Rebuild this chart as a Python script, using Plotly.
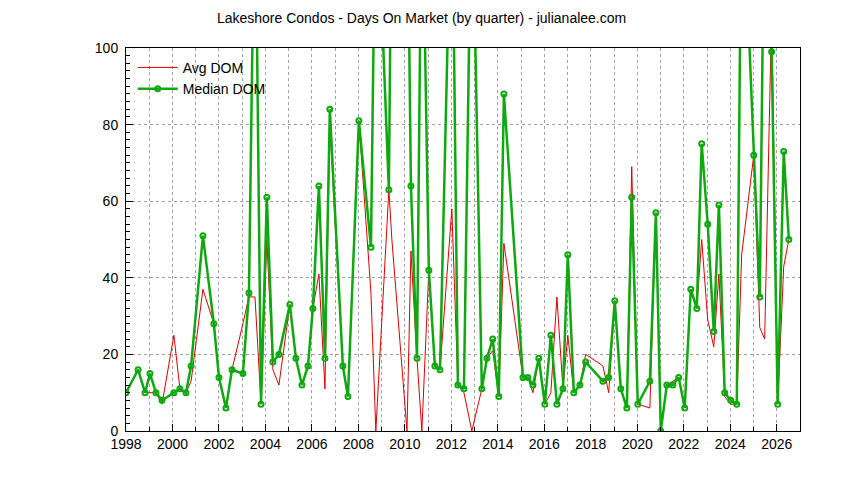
import plotly.graph_objects as go

# quarter positions (decimal year)
years = [1998.0, 1998.52, 1998.82, 1999.03, 1999.29, 1999.55, 2000.06, 2000.32, 2000.58, 2000.8,
         2001.31, 2001.78, 2002.0, 2002.3, 2002.56, 2003.03, 2003.29, 2003.55, 2003.81, 2004.06,
         2004.32, 2004.58, 2005.05, 2005.31, 2005.57, 2005.83, 2006.04, 2006.3, 2006.56, 2006.77,
         2007.33, 2007.55, 2008.02, 2008.54, 2008.75, 2009.31, 2009.44, 2010.09, 2010.26, 2010.52,
         2010.73, 2011.03, 2011.29, 2011.51, 2012.02, 2012.28, 2012.54, 2012.88, 2013.31, 2013.53,
         2013.78, 2014.04, 2014.26, 2015.08, 2015.29, 2015.51, 2015.76, 2016.02, 2016.28, 2016.54,
         2016.8, 2017.01, 2017.27, 2017.53, 2017.78, 2018.52, 2018.77, 2019.03, 2019.29, 2019.55,
         2019.76, 2020.02, 2020.54, 2020.8, 2021.01, 2021.27, 2021.53, 2021.78, 2022.04, 2022.3,
         2022.56, 2022.77, 2023.03, 2023.29, 2023.51, 2023.76, 2024.02, 2024.28, 2024.49, 2025.01,
         2025.27, 2025.48, 2025.78, 2026.04, 2026.3, 2026.52]

median_dom = [10, 16, 10, 15, 10, 8, 10, 11, 10, 17,
              51, 28, 14, 6, 16, 15, 36, 150, 7, 61,
              18, 20, 33, 19, 12, 17, 32, 64, 19, 84,
              17, 9, 81, 48, 150, 63, 150, 150, 64, 19,
              150, 42, 17, 16, 150, 12, 11, 150, 11, 19,
              24, 9, 88, 14, 14, 12, 19, 7, 25, 7,
              11, 46, 10, 12, 18, 13, 14, 34, 11, 6,
              61, 7, 13, 57, 0, 12, 12, 14, 6, 37,
              32, 75, 54, 26, 59, 10, 8, 7, 150, 72,
              35, 150, 99, 7, 73, 50]

avg_dom = [10, 16, 10, 10, 10, 7, 25, 11, 10, 13,
           37, 28, 14, 6, 16, 28, 35, 35, 7, 50,
           16, 12, 33, 19, 12, 17, 32, 41, 11, 80,
           17, 9, 81, 36, 0, 63, 50, 0, 47, 19,
           0, 42, 17, 16, 58, 12, 10, 0, 11, 19,
           21, 9, 49, 14, 14, 10, 19, 7, 10, 35,
           11, 25, 10, 12, 20, 17, 10, 34, 11, 6,
           69, 7, 6, 57, 0, 12, 13, 14, 6, 37,
           32, 50, 29, 22, 41, 9, 7, 7, 46, 72,
           27, 24, 110, 7, 43, 50]

fig = go.Figure()
fig.add_trace(go.Scatter(x=years, y=avg_dom, mode="lines", name="Avg DOM",
                         line=dict(color="#dd0000", width=1)))
fig.add_trace(go.Scatter(x=years, y=median_dom, mode="lines+markers", name="Median DOM",
                         line=dict(color="#10a810", width=2.5),
                         marker=dict(symbol="circle-open", size=5, color="#10a810",
                                     line=dict(width=2))))

axis_style = dict(showline=True, linecolor="black", linewidth=1, mirror=True,
                  ticks="inside", ticklen=7, tickcolor="black",
                  showgrid=True, gridcolor="#a0a0a0", griddash="dot", gridwidth=1,
                  zeroline=False, tickfont=dict(size=14, color="black"))

fig.update_layout(
    width=844, height=480,
    paper_bgcolor="white", plot_bgcolor="white",
    font=dict(family="Liberation Sans, Arial, sans-serif", size=14, color="black"),
    title=dict(text="Lakeshore Condos - Days On Market (by quarter) - julianalee.com",
               x=0.49, xanchor="center", yref="container", y=0.978, yanchor="middle",
               font=dict(size=14)),
    margin=dict(l=118, r=52, t=40, b=57),
    showlegend=True,
    legend=dict(x=0.01, y=0.99, xanchor="left", yanchor="top", bgcolor="rgba(0,0,0,0)",
                font=dict(size=14), itemwidth=40),
)
fig.update_xaxes(range=[1998, 2027], dtick=2, tick0=1998,
                 minor=dict(dtick=1, ticks="inside", ticklen=4, tickcolor="black",
                            showgrid=True, gridcolor="#a0a0a0", griddash="dot"),
                 **axis_style)
fig.update_yaxes(range=[0, 100], dtick=20, ticklabelstandoff=4,
                 minor=dict(dtick=2, ticks="inside", ticklen=4, tickcolor="black", showgrid=False),
                 **axis_style)

fig.write_html("out.html")
